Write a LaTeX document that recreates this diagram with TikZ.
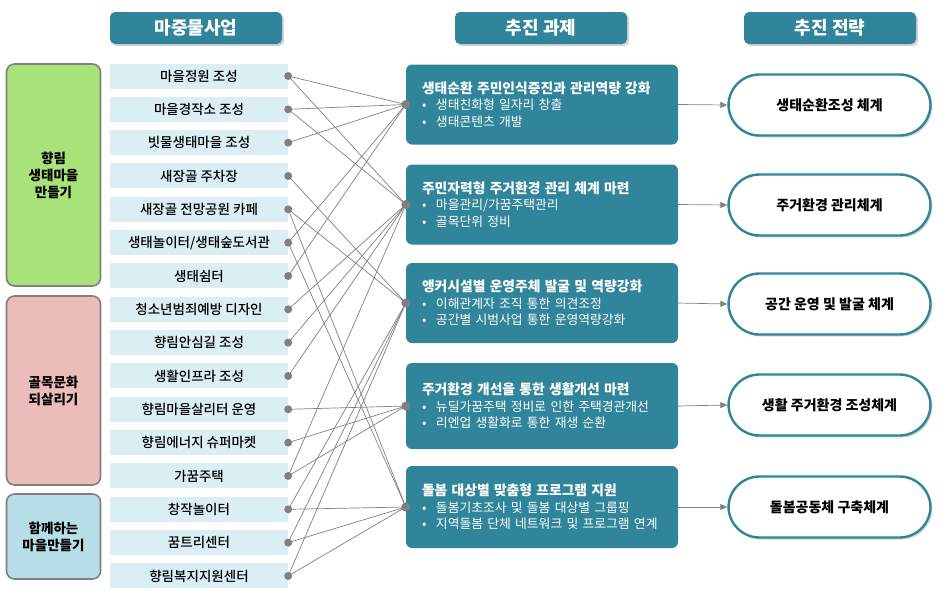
\documentclass[tikz,border=0pt]{standalone}
\usepackage{fontspec}
\setmainfont{Noto Sans CJK KR}
\newfontfamily\medfont{Noto Sans CJK KR Medium}
\usetikzlibrary{arrows.meta, shadows}
\definecolor{hdteal}{RGB}{49,133,155}
\definecolor{itemblue}{RGB}{219,238,244}
\definecolor{grpgreen}{RGB}{168,226,120}
\definecolor{grppink}{RGB}{235,188,185}
\definecolor{grpblue}{RGB}{183,222,232}
\definecolor{linegray}{RGB}{128,128,128}
\newcommand{\bul}{\makebox[14pt][l]{\textbullet}}

\begin{document}
\begin{tikzpicture}[x=1pt, y=-1pt,
  header/.style={fill=hdteal, rounded corners=5pt, minimum width=172pt, minimum height=32pt, text=white,
    font=\fontsize{18}{20}\selectfont\bfseries, drop shadow={opacity=0.35, shadow xshift=2pt, shadow yshift=-2pt}},
  group/.style={draw=linegray, line width=1.6pt, rounded corners=8pt, minimum width=94pt, align=center,
    font=\fontsize{13.5}{17}\selectfont\bfseries},
  item/.style={fill=itemblue, minimum width=178pt, minimum height=25pt, font=\fontsize{13.5}{15}\medfont},
  task/.style={fill=hdteal, rounded corners=6pt, minimum width=272pt, minimum height=80pt, text width=240pt,
    align=left, text=white, font=\fontsize{12.8}{16.5}\selectfont},
  strat/.style={draw=hdteal, line width=2.4pt, fill=white, rounded corners=31pt, minimum width=202pt,
    minimum height=61pt, font=\fontsize{14}{16}\selectfont\bfseries,
    drop shadow={opacity=0.3, shadow xshift=2pt, shadow yshift=-2pt}},
  link/.style={linegray, line width=0.7pt},
  dot/.style={fill=linegray}
]
\useasboundingbox (0,0) rectangle (952,597);

% === headers ===
\node[header] (h1) at (196,28) {마중물사업};
\node[header] (h2) at (541,28) {추진 과제};
\node[header] (h3) at (830,28) {추진 전략};

% === groups ===
\node[group, fill=grpgreen, minimum height=222pt] (g1) at (53.5,175) {향림\\생태마을\\만들기};
\node[group, fill=grppink, minimum height=189pt] (g2) at (53.5,390.5) {골목문화\\되살리기};
\node[group, fill=grpblue, minimum height=85pt] (g3) at (53.5,536.5) {함께하는\\마을만들기};

% === projects ===
\foreach \n/\txt in {1/마을정원 조성, 2/마을경작소 조성, 3/빗물생태마을 조성, 4/새장골 주차장,
    5/새장골 전망공원 카페, 6/{생태놀이터/생태숲도서관}, 7/생태쉼터, 8/청소년범죄예방 디자인,
    9/향림안심길 조성, 10/생활인프라 조성, 11/향림마을살리터 운영, 12/향림에너지 슈퍼마켓,
    13/가꿈주택, 14/창작놀이터, 15/꿈트리센터, 16/향림복지지원센터} {
  \node[item] (i\n) at (199,{76+(\n-1)*33.33}) {\txt};
}

% === tasks ===
\node[task] (t1) at (542,104.5) {\textbf{\fontsize{13.8}{16.5}\selectfont 생태순환 주민인식증진과 관리역량 강화}\\
  \bul 생태친화형 일자리 창출\\ \bul 생태콘텐츠 개발};
\node[task] (t2) at (542,204.5) {\textbf{\fontsize{13.8}{16.5}\selectfont 주민자력형 주거환경 관리 체계 마련}\\
  \bul 마을관리/가꿈주택관리\\ \bul 골목단위 정비};
\node[task] (t3) at (542,303) {\textbf{\fontsize{13.8}{16.5}\selectfont 앵커시설별 운영주체 발굴 및 역량강화}\\
  \bul 이해관계자 조직 통한 의견조정\\ \bul 공간별 시범사업 통한 운영역량강화};
\node[task, minimum height=86pt] (t4) at (542,406) {\textbf{\fontsize{13.8}{16.5}\selectfont 주거환경 개선을 통한 생활개선 마련}\\
  \bul 뉴딜가꿈주택 정비로 인한 주택경관개선\\ \bul 리엔업 생활화로 통한 재생 순환};
\node[task, minimum height=82pt] (t5) at (542,507) {\textbf{\fontsize{13.8}{16.5}\selectfont 돌봄 대상별 맞춤형 프로그램 지원}\\
  \bul 돌봄기초조사 및 돌봄 대상별 그룹핑\\ \bul 지역돌봄 단체 네트워크 및 프로그램 연계};

% === strategies ===
\node[strat] (s1) at (829.5,105) {생태순환조성 체계};
\node[strat] (s2) at (829.5,205) {주거환경 관리체계};
\node[strat] (s3) at (829.5,304) {공간 운영 및 발굴 체계};
\node[strat] (s4) at (829.5,405) {생활 주거환경 조성체계};
\node[strat] (s5) at (829.5,507) {돌봄공동체 구축체계};

% === links ===
\foreach \a/\b in {1/1,2/1,3/1,6/1,7/1,1/2,2/2,8/2,9/2,10/2,13/2,4/3,5/3,14/3,15/3,16/3,
    11/4,12/4,13/4,5/5,6/5,14/5,15/5,16/5}
  \draw[link] (i\a.east) -- (t\b.west);
\foreach \n in {1,...,16}
  \fill[dot] (i\n.east) circle (4pt);
\foreach \n in {1,...,5} {
  \fill[dot] (t\n.west) circle (4.5pt);
  \draw[link, -{Triangle[length=7pt, width=6pt]}] (t\n.east) -- (s\n.west);
}

\end{tikzpicture}
\end{document}
